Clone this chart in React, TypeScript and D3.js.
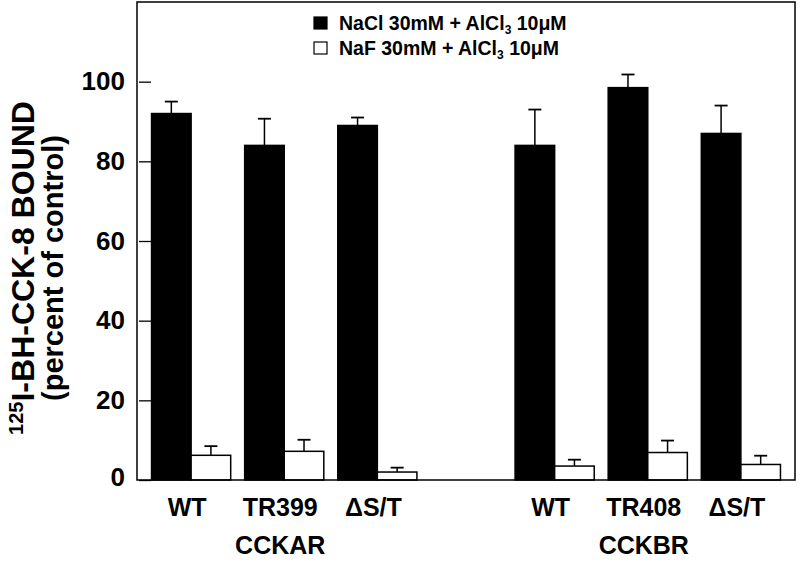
import React, { useEffect, useRef } from 'react';
import * as d3 from 'd3';

const groups = ['CCKAR', 'CCKBR'];
const variants = [
  ['WT', 'TR399', 'ΔS/T'],
  ['WT', 'TR408', 'ΔS/T'],
];
const series = ['NaCl', 'NaF'];
// values per bar, group 1 then group 2
const naclMean = [92, 84, 89, 84, 98.5, 87];
const naclErr = [3, 6.7, 2, 9, 3.3, 7];
const nafMean = [6.2, 7.2, 2, 3.5, 6.9, 3.9];
const nafErr = [2.3, 2.9, 1.1, 1.6, 3, 2.2];
const yTicks = [0, 20, 40, 60, 80, 100];

const FONT = '"Liberation Sans", Arial, Helvetica, sans-serif';

const App = () => {
  const ref = useRef<SVGSVGElement | null>(null);

  useEffect(() => {
    const width = 800;
    const height = 564;
    const margin = { top: 2, right: 5, bottom: 84, left: 137 };
    const chartWidth = width - margin.left - margin.right;
    const chartHeight = height - margin.top - margin.bottom;

    const root = d3.select(ref.current);
    root.selectAll('*').remove();
    const svg = root.append('g').attr('transform', `translate(${margin.left},${margin.top})`);

    const yScale = d3.scaleLinear().domain([0, 120]).range([chartHeight, 0]);
    const groupScale = d3.scaleBand().domain(groups).range([0, chartWidth]).paddingInner(0.27).paddingOuter(0.04);
    const variantScale = d3.scaleBand().domain(['0', '1', '2']).range([0, groupScale.bandwidth()]).paddingInner(0.15).paddingOuter(0);
    const seriesScale = d3.scaleBand().domain(series).range([0, variantScale.bandwidth()]);

    const rows = groups.flatMap((g, gi) =>
      variants[gi].map((v, vi) => {
        const k = gi * 3 + vi;
        return {
          group: g,
          label: v,
          x: (groupScale(g) ?? 0) + (variantScale(String(vi)) ?? 0),
          values: [
            { key: 'NaCl', mean: naclMean[k], err: naclErr[k] },
            { key: 'NaF', mean: nafMean[k], err: nafErr[k] },
          ],
        };
      })
    );

    // bars + error bars (upper only)
    rows.forEach(r => {
      r.values.forEach(d => {
        const bx = r.x + (seriesScale(d.key) ?? 0);
        const bw = seriesScale.bandwidth();
        svg.append('rect')
          .attr('x', bx)
          .attr('y', yScale(d.mean))
          .attr('width', bw)
          .attr('height', chartHeight - yScale(d.mean))
          .attr('fill', d.key === 'NaCl' ? '#000' : '#fff')
          .attr('stroke', '#000')
          .attr('stroke-width', 1.5);
        const cx = bx + bw / 2;
        svg.append('line')
          .attr('x1', cx).attr('x2', cx)
          .attr('y1', yScale(d.mean)).attr('y2', yScale(d.mean + d.err))
          .attr('stroke', '#000').attr('stroke-width', 1.5);
        svg.append('line')
          .attr('x1', cx - 6.5).attr('x2', cx + 6.5)
          .attr('y1', yScale(d.mean + d.err)).attr('y2', yScale(d.mean + d.err))
          .attr('stroke', '#000').attr('stroke-width', 1.8);
      });
    });

    // frame
    svg.append('rect')
      .attr('x', 0).attr('y', 0)
      .attr('width', chartWidth).attr('height', chartHeight)
      .attr('fill', 'none').attr('stroke', '#000').attr('stroke-width', 1.5);

    // y axis, ticks inward
    const yAxis = svg.append('g').call(
      d3.axisLeft(yScale).tickValues(yTicks).tickSize(-12).tickPadding(12).tickFormat(d3.format('d'))
    );
    yAxis.select('.domain').remove();
    yAxis.selectAll('.tick line').attr('stroke-width', 1.3).attr('transform', 'translate(2,0)');
    yAxis.selectAll('.tick text')
      .attr('font-family', FONT)
      .attr('font-weight', 'bold')
      .attr('font-size', 26)
      .attr('fill', '#000');
    yAxis.select('.tick text').attr('dy', '0.2em');

    // category labels
    rows.forEach(r => {
      svg.append('text')
        .attr('x', r.x + variantScale.bandwidth() / 2 - 4)
        .attr('y', chartHeight + 36)
        .attr('text-anchor', 'middle')
        .attr('font-family', FONT)
        .attr('font-weight', 'bold')
        .attr('font-size', 25)
        .text(r.label);
    });

    groups.forEach(g => {
      svg.append('text')
        .attr('x', (groupScale(g) ?? 0) + groupScale.bandwidth() / 2 - 4)
        .attr('y', chartHeight + 74)
        .attr('text-anchor', 'middle')
        .attr('font-family', FONT)
        .attr('font-weight', 'bold')
        .attr('font-size', 25)
        .text(g);
    });

    // y label
    const yl = root.append('g').attr('transform', 'translate(0,268) rotate(-90)');
    const l1 = yl.append('text')
      .attr('x', 0).attr('y', 34)
      .attr('text-anchor', 'middle')
      .attr('font-family', FONT)
      .attr('font-weight', 'bold')
      .attr('font-size', 32);
    l1.append('tspan').attr('font-size', 20).attr('dy', -11).text('125');
    l1.append('tspan').attr('dy', 11).text('I-BH-CCK-8 BOUND');
    yl.append('text')
      .attr('x', 0).attr('y', 63)
      .attr('text-anchor', 'middle')
      .attr('font-family', FONT)
      .attr('font-weight', 'bold')
      .attr('font-size', 29)
      .text('(percent of control)');

    // legend
    const legendLabels = [
      { key: 'NaCl', main: 'NaCl 30mM + AlCl' },
      { key: 'NaF', main: 'NaF 30mM + AlCl' },
    ];
    const legend = root.append('g').attr('transform', 'translate(314,17)');
    legendLabels.forEach((l, i) => {
      const row = legend.append('g').attr('transform', `translate(0,${i * 25})`);
      row.append('rect')
        .attr('width', 13).attr('height', 12)
        .attr('fill', l.key === 'NaCl' ? '#000' : '#fff')
        .attr('stroke', '#000').attr('stroke-width', 1.2);
      const t = row.append('text')
        .attr('x', 25).attr('y', 12.5)
        .attr('font-family', FONT)
        .attr('font-weight', 'bold')
        .attr('font-size', 19.5);
      t.append('tspan').text(l.main);
      t.append('tspan').attr('font-size', 12).attr('dy', 4).text('3');
      t.append('tspan').attr('dy', -4).text(' 10μM');
    });
  }, []);

  return (
    <svg
      ref={ref}
      width={800}
      height={564}
      style={{ position: 'absolute', left: 0, top: 0, background: '#fff' }}
    />
  );
};

export default App;
